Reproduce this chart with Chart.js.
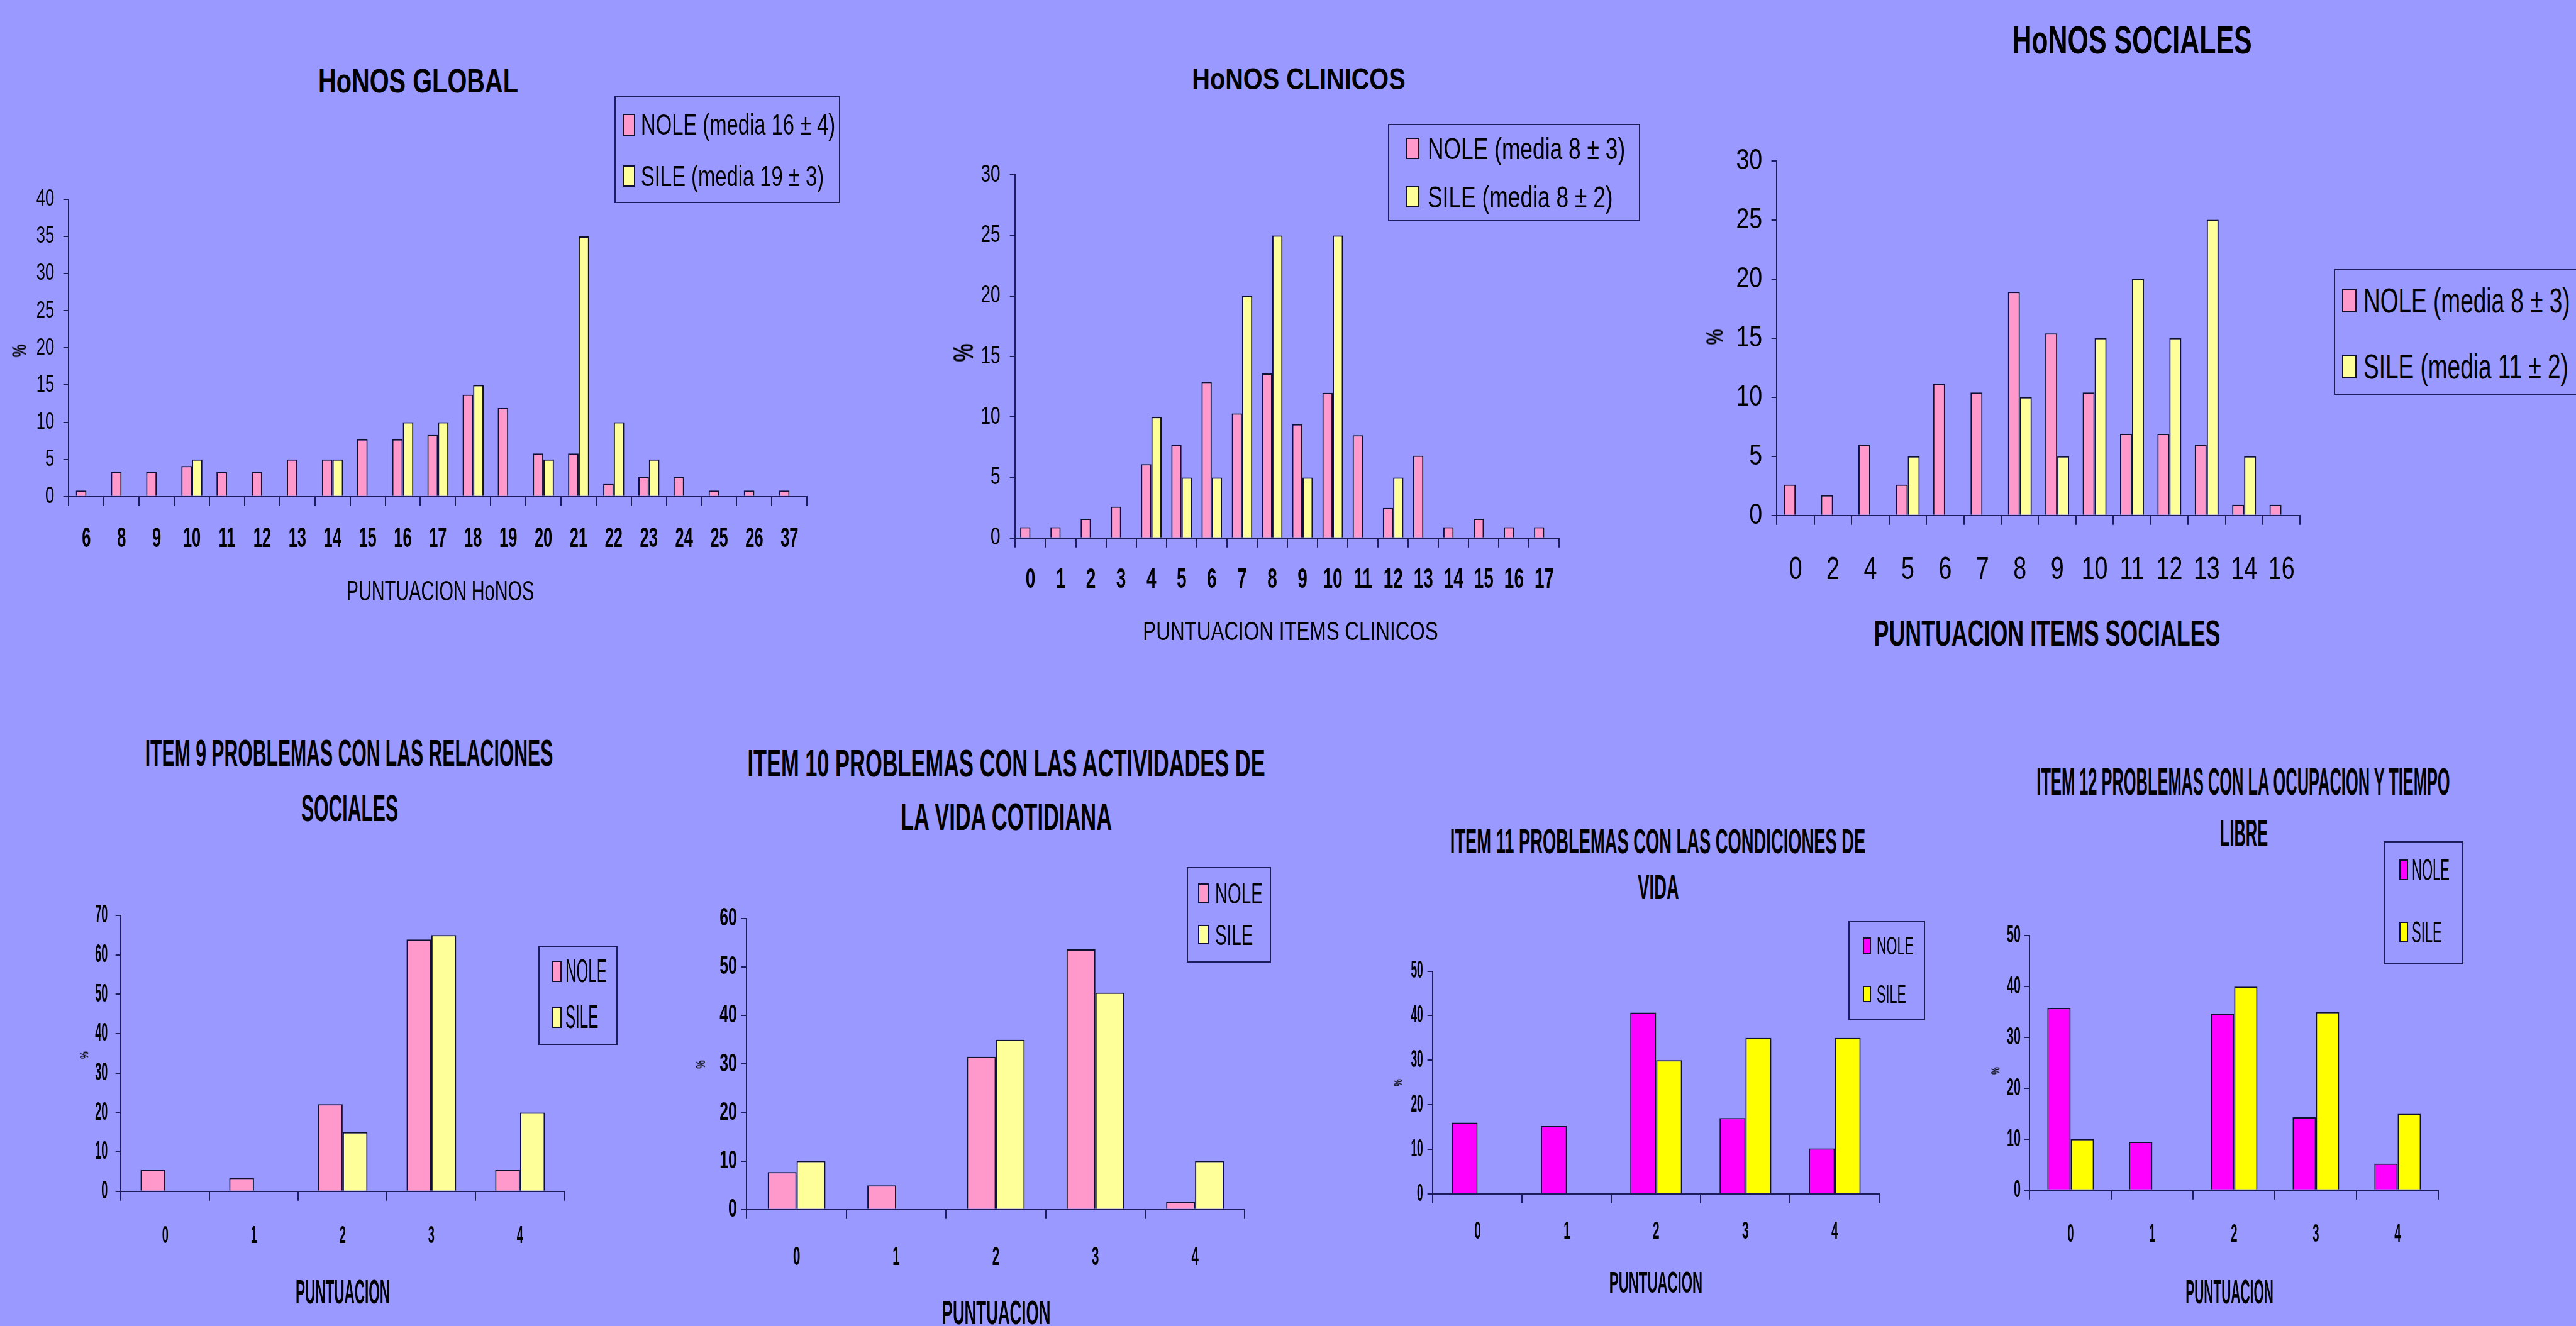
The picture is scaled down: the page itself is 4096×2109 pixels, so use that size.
<!DOCTYPE html>
<html><head><meta charset="utf-8">
<script src="https://cdn.jsdelivr.net/npm/chart.js@4.4.1/dist/chart.umd.min.js"></script>
<style>
html,body{margin:0;padding:0;background:#9999FF;width:4096px;height:2109px;overflow:hidden;position:relative}
.t{position:absolute;white-space:nowrap;font-family:'Liberation Sans',Arial,sans-serif;color:#000;line-height:1}
canvas{position:absolute}
.lg{position:absolute;border:2px solid #1c1c5c;box-sizing:border-box}
.sw{position:absolute;box-sizing:border-box;border:2px solid #101030}
</style></head><body>
<script>
// ---------------- DATA ----------------
const globalCats = ['6','8','9','10','11','12','13','14','15','16','17','18','19','20','21','22','23','24','25','26','37'];
const globalNole = [0.8,3.3,3.3,4.1,3.3,3.3,5,5,7.7,7.7,8.3,13.7,11.9,5.8,5.8,1.7,2.6,2.6,0.8,0.8,0.8];
const globalSile = [null,null,null,5,null,null,null,5,null,10,10,15,null,5,35,10,5,null,null,null,null];
const globalLegend = ['NOLE (media 16 \u00B1 4)','SILE (media 19 \u00B1 3)'];

const clinCats = ['0','1','2','3','4','5','6','7','8','9','10','11','12','13','14','15','16','17'];
const clinNole = [0.9,0.9,1.6,2.6,6.1,7.7,12.9,10.3,13.6,9.4,12,8.5,2.5,6.8,0.9,1.6,0.9,0.9];
const clinSile = [null,null,null,null,10,5,5,20,25,5,25,null,5,null,null,null,null,null];
const clinLegend = ['NOLE (media 8 \u00B1 3)','SILE (media 8 \u00B1 2)'];

const socCats = ['0','2','4','5','6','7','8','9','10','11','12','13','14','16'];
const socNole = [2.6,1.7,6,2.6,11.1,10.4,18.9,15.4,10.4,6.9,6.9,6,0.9,0.9];
const socSile = [null,null,null,5,null,null,10,5,15,20,15,25,5,null];
const socLegend = ['NOLE (media 8 \u00B1 3)','SILE (media 11 \u00B1 2)'];

const itemCats = ['0','1','2','3','4'];
const itemLegend = ['NOLE','SILE'];
const item9Nole = [5.4,3.4,22.1,63.9,5.4];
const item9Sile = [null,null,15,65,20];
const item10Nole = [7.7,5,31.5,53.6,1.6];
const item10Sile = [10,null,35,44.7,10];
const item11Nole = [16,15.2,40.7,17,10.2];
const item11Sile = [null,null,30,35,35];
const item12Nole = [35.8,9.5,34.7,14.3,5.2];
const item12Sile = [10,null,40,35,15];

// ---------------- STYLE / LAYOUT ----------------
const S = 0.626;
const PINK='#FF99CC', LYEL='#FFFF99', MAG='#FF00FF', YEL='#FFFF00';
const AXIS='#1c1c5c', EDGE='#101030';
const TICKFONT="'Liberation Sans',Arial,sans-serif";

function txt(str,x,y,size,weight,targetW,align,rot,ratio){
  const e=document.createElement('div'); e.className='t'; e.textContent=str;
  e.style.fontSize=(size*S)+'px'; e.style.fontWeight=weight;
  e.style.left=(x*S)+'px'; e.style.top=(y*S)+'px';
  document.body.appendChild(e);
  let r = ratio || 1;
  if (targetW) r = targetW*S / e.getBoundingClientRect().width;
  if (align==='left'){ e.style.transformOrigin='0 50%'; e.style.transform='translateY(-50%) scaleX('+r+')'; }
  else if (rot){ e.style.transform='translate(-50%,-50%) rotate(-90deg) scaleX('+r+')'; }
  else e.style.transform='translate(-50%,-50%) scaleX('+r+')';
  return r;
}

function legend(L, labels, colors){
  const [x1,y1,x2,y2]=L.box;
  const bx=document.createElement('div'); bx.className='lg';
  bx.style.left=(x1*S)+'px'; bx.style.top=(y1*S)+'px';
  bx.style.width=((x2-x1)*S)+'px'; bx.style.height=((y2-y1)*S)+'px';
  document.body.appendChild(bx);
  let r=null;
  labels.forEach((lab,i)=>{
    const sw=document.createElement('div'); sw.className='sw';
    sw.style.left=(L.swX*S)+'px'; sw.style.top=((L.ys[i]-L.swH/2)*S)+'px';
    sw.style.width=(L.swW*S)+'px'; sw.style.height=(L.swH*S)+'px';
    sw.style.background=colors[i];
    document.body.appendChild(sw);
    if (i===0) r = txt(lab,L.textX,L.ys[i],L.font,'normal',L.textW,'left',0);
    else txt(lab,L.textX,L.ys[i],L.font,'normal',null,'left',0,r);
  });
}

function makeChart(d){
  const yAxisW=170, padTop=45, padRight=25, xAxisH=240;
  const [l,t,r,b]=d.plot;
  const cl=(l-yAxisW)*S, ct=(t-padTop)*S;
  const cw=Math.round((r-l+yAxisW+padRight)*S), ch=Math.round((b-t+padTop+xAxisH)*S);
  const cv=document.createElement('canvas');
  cv.width=cw; cv.height=ch;
  cv.style.left=cl+'px'; cv.style.top=ct+'px'; cv.style.width=cw+'px'; cv.style.height=ch+'px';
  document.body.appendChild(cv);
  // condensed tick lettering (the original uses a very narrow face)
  const ctx=cv.getContext('2d');
  const origFill=ctx.fillText.bind(ctx);
  ctx.fillText=function(text,x,y,maxW){
    const k = ctx.textAlign==='right' ? d.yNarrow : d.xNarrow;
    ctx.save(); ctx.translate(x,y); ctx.scale(k,1);
    if (maxW===undefined) origFill(text,0,0); else origFill(text,0,0,maxW/k);
    ctx.restore();
  };
  const wt=k=>k<=0.66?'bold':'normal';
  const ds=(label,data,color)=>({label,data,backgroundColor:color,borderColor:EDGE,borderWidth:2,
    borderSkipped:'bottom',categoryPercentage:d.cp,barPercentage:1});
  new Chart(cv,{
    type:'bar',
    data:{labels:d.cats,datasets:[ds(d.legend[0],d.nole,d.colors[0]),ds(d.legend[1],d.sile,d.colors[1])]},
    options:{
      responsive:false, maintainAspectRatio:false, animation:false, devicePixelRatio:1,
      layout:{padding:{top:padTop*S,right:padRight*S,left:0,bottom:0}},
      plugins:{legend:{display:false},tooltip:{enabled:false},title:{display:false}},
      scales:{
        x:{offset:true,
          grid:{offset:true,drawOnChartArea:false,drawTicks:true,tickLength:24*S,color:AXIS,lineWidth:2},
          border:{display:true,color:AXIS,width:2},
          ticks:{color:'#000',font:{family:TICKFONT,size:d.xFont*S,weight:wt(d.xNarrow)},padding:d.xPad*S,maxRotation:0,minRotation:0,autoSkip:false},
          afterFit(s){s.height=xAxisH*S;}},
        y:{min:0,max:d.max,
          grid:{drawOnChartArea:false,drawTicks:true,tickLength:14*S,color:AXIS,lineWidth:2},
          border:{display:true,color:AXIS,width:2},
          ticks:{stepSize:d.step,color:'#000',font:{family:TICKFONT,size:d.yFont*S,weight:wt(d.yNarrow)},padding:d.yPad*S},
          afterFit(s){s.width=yAxisW*S;}}
      }
    }
  });
  let rr=null;
  d.title.forEach((ln,i)=>{
    if(i===0) rr=txt(ln[0],ln[1],ln[2],d.titleSize,'bold',d.titleW,'center',0);
    else txt(ln[0],ln[1],ln[2],d.titleSize,'bold',null,'center',0,rr);
  });
  txt(d.xTitle[0],d.xTitle[1],d.xTitle[2],d.xTitle[3],d.xTitle[5],d.xTitle[4],'center',0);
  txt('%',d.yTitle[0],d.yTitle[1],d.yTitle[2],'bold',null,'center',1,0.75);
  legend(d.leg,d.legend,d.colors);
}

const charts=[
 {cats:globalCats,nole:globalNole,sile:globalSile,legend:globalLegend,colors:[PINK,LYEL],
  plot:[175,493,2063,1263],max:40,step:5,yFont:60,xFont:70,yPad:23,xPad:43,cp:0.6,xNarrow:0.58,yNarrow:0.68,
  title:[['HoNOS GLOBAL',1062,206]],titleSize:86,titleW:508,
  xTitle:['PUNTUACION HoNOS',1118,1501,70,477,'normal'],yTitle:[49,891,50],
  leg:{box:[1560,245,2135,516],swX:1581,swW:32,swH:55,textX:1627,textW:494,font:74,ys:[317,447]}},
 {cats:clinCats,nole:clinNole,sile:clinSile,legend:clinLegend,colors:[PINK,LYEL],
  plot:[2579,429,3978,1367],max:30,step:5,yFont:62,xFont:72,yPad:24,xPad:40,cp:0.68,xNarrow:0.62,yNarrow:0.72,
  title:[['HoNOS CLINICOS',3298,199]],titleSize:78,titleW:542,
  xTitle:['PUNTUACION ITEMS CLINICOS',3278,1603,68,750,'normal'],yTitle:[2448,896,70],
  leg:{box:[3526,315,4166,562],swX:3572,swW:34,swH:54,textX:3626,textW:502,font:78,ys:[377,500]}},
 {cats:socCats,nole:socNole,sile:socSile,legend:socLegend,colors:[PINK,LYEL],
  plot:[4513,385,5882,1309],max:30,step:5,yFont:75,xFont:80,yPad:23,xPad:67,cp:0.64,xNarrow:0.75,yNarrow:0.8,
  title:[['HoNOS SOCIALES',5416,100]],titleSize:100,titleW:609,
  xTitle:['PUNTUACION ITEMS SOCIALES',5200,1610,92,880,'bold'],yTitle:[4357,857,60],
  leg:{box:[5928,683,6580,1003],swX:5949,swW:37,swH:60,textX:6003,textW:525,font:90,ys:[764,932]}},
 {cats:itemCats,nole:item9Nole,sile:item9Sile,legend:itemLegend,colors:[PINK,LYEL],
  plot:[308,2312,1434,3027],max:70,step:10,yFont:65,xFont:63,yPad:20,xPad:53,cp:0.56,xNarrow:0.46,yNarrow:0.44,
  title:[['ITEM 9 PROBLEMAS CON LAS RELACIONES',887,1913],['SOCIALES',888,2055]],titleSize:96,titleW:1036,
  xTitle:['PUNTUACION',871,3283,86,240,'bold'],yTitle:[216,2680,28],
  leg:{box:[1368,2403,1568,2655],swX:1403,swW:23,swH:55,textX:1436,textW:105,font:82,ys:[2468,2585]}},
 {cats:itemCats,nole:item10Nole,sile:item10Sile,legend:itemLegend,colors:[PINK,LYEL],
  plot:[1897,2327,3162,3073],max:60,step:10,yFont:66,xFont:68,yPad:11,xPad:57,cp:0.58,xNarrow:0.48,yNarrow:0.6,
  title:[['ITEM 10 PROBLEMAS CON LAS ACTIVIDADES DE',2556,1940],['LA VIDA COTIDIANA',2556,2075]],titleSize:98,titleW:1315,
  xTitle:['PUNTUACION',2530,3335,86,276,'bold'],yTitle:[1780,2705,32],
  leg:{box:[3014,2203,3228,2445],swX:3043,swW:27,swH:50,textX:3087,textW:121,font:74,ys:[2270,2375]}},
 {cats:itemCats,nole:item11Nole,sile:item11Sile,legend:itemLegend,colors:[MAG,YEL],
  plot:[3640,2463,4774,3032],max:50,step:10,yFont:63,xFont:63,yPad:11,xPad:34,cp:0.58,xNarrow:0.48,yNarrow:0.44,
  title:[['ITEM 11 PROBLEMAS CON LAS CONDICIONES DE',4211,2139],['VIDA',4213,2256]],titleSize:89,titleW:1055,
  xTitle:['PUNTUACION',4206,3257,77,237,'bold'],yTitle:[3553,2751,28],
  leg:{box:[4695,2340,4890,2592],swX:4732,swW:20,swH:42,textX:4767,textW:94,font:64,ys:[2402,2525]}},
 {cats:itemCats,nole:item12Nole,sile:item12Sile,legend:itemLegend,colors:[MAG,YEL],
  plot:[5156,2375,6195,3023],max:50,step:10,yFont:63,xFont:64,yPad:9,xPad:51,cp:0.57,xNarrow:0.46,yNarrow:0.5,
  title:[['ITEM 12 PROBLEMAS CON LA OCUPACION Y TIEMPO',5698,1985],['LIBRE',5700,2116]],titleSize:99,titleW:1050,
  xTitle:['PUNTUACION',5663,3282,86,223,'bold'],yTitle:[5070,2721,28],
  leg:{box:[6055,2137,6258,2450],swX:6094,swW:22,swH:53,textX:6126,textW:96,font:78,ys:[2210,2368]}}
];
charts.forEach(makeChart);
</script>
</body></html>
